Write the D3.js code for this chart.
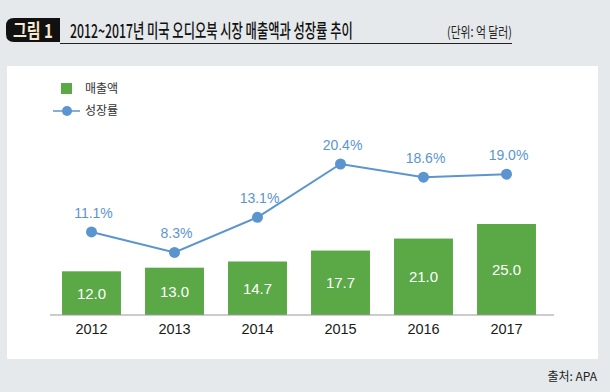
<!DOCTYPE html>
<html><head><meta charset="utf-8">
<script src="https://cdn.jsdelivr.net/npm/d3@7"></script>
<style>
html,body{margin:0;padding:0;background:#e5e9ec;}
svg{display:block;}
text{font-family:"Liberation Sans","Noto Sans CJK KR",sans-serif;}
.kr{font-family:"Noto Sans CJK KR","Noto Sans",sans-serif;}
</style></head>
<body>
<script>
const years = ["2012","2013","2014","2015","2016","2017"];
const sales = [12.0, 13.0, 14.7, 17.7, 21.0, 25.0];
const growth = [11.1, 8.3, 13.1, 20.4, 18.6, 19.0];
const salesLabels = ["12.0","13.0","14.7","17.7","21.0","25.0"];
const growthLabels = ["11.1%","8.3%","13.1%","20.4%","18.6%","19.0%"];
const title = "2012~2017년 미국 오디오북 시장 매출액과 성장률 추이";
const figLabel = "그림 1";
const unit = "(단위: 억 달러)";
const source = "출처: APA";
const legendNames = ["매출액","성장률"];

const W = 610, H = 392;
const green = "#5aa846", blue = "#5b95cf";

const svg = d3.select("body").append("svg").attr("width", W).attr("height", H);
svg.append("rect").attr("width", W).attr("height", H).attr("fill", "#e5e9ec");

// fit text horizontally by scaling: left x, baseline y, target width
function fitText(sel, x0, y0, targetW, anchor) {
  const w = sel.node().getComputedTextLength();
  const s = targetW / w;
  const tx = anchor === "end" ? x0 - targetW : (anchor === "middle" ? x0 - targetW/2 : x0);
  sel.attr("x", 0).attr("y", 0).attr("text-anchor", "start")
     .attr("transform", `translate(${tx},${y0}) scale(${s},1)`);
}

// header
const hdr = svg.append("g");
hdr.append("path")
  .attr("d", "M14,18 H60 V42 H14 Q6,42 6,34 V26 Q6,18 14,18 Z")
  .attr("fill", "#111");
const fl = hdr.append("text").attr("class","kr").attr("font-size", 19).attr("font-weight", 700)
  .attr("fill", "#f6ead2").text(figLabel);
fitText(fl, 33, 37.5, 40, "middle");
const tt = hdr.append("text").attr("class","kr").attr("font-size", 19).attr("font-weight", 500)
  .attr("fill", "#111").text(title);
fitText(tt, 70, 38, 283, "start");
const ut = hdr.append("text").attr("class","kr").attr("font-size", 14).attr("fill", "#222").text(unit);
fitText(ut, 512, 37, 65, "end");
hdr.append("line").attr("x1", 60).attr("x2", 512).attr("y1", 43.5).attr("y2", 43.5)
  .attr("stroke", "#222").attr("stroke-width", 1.2);

// panel
svg.append("rect").attr("x", 7).attr("y", 66).attr("width", 591).attr("height", 293).attr("fill", "#fff");

// scales
const x = d3.scaleBand().domain(years).range([50, 548]).paddingInner(0.29).paddingOuter(0.145);
const yBar = d3.scaleLinear().domain([0, 25]).range([315, 224]);
const yLine = d3.scaleLinear().domain([0, 20.4]).range([313, 164]);

// bars
const bars = svg.append("g");
bars.selectAll("rect").data(years).join("rect")
  .attr("x", d => x(d)).attr("width", x.bandwidth())
  .attr("y", (d,i) => yBar(sales[i])).attr("height", (d,i) => yBar(0) - yBar(sales[i]))
  .attr("fill", green);
bars.selectAll("text").data(years).join("text")
  .attr("x", d => x(d) + x.bandwidth()/2)
  .attr("y", (d,i) => (yBar(sales[i]) + yBar(0))/2 + 5.5)
  .attr("text-anchor","middle").attr("font-size", 15).attr("fill", "#fff")
  .text((d,i) => salesLabels[i]);

// axis
const axis = svg.append("g").attr("transform", `translate(0,${yBar(0)})`)
  .call(d3.axisBottom(x).tickSize(0).tickPadding(9));
axis.select(".domain").remove();
axis.append("line").attr("x1", x.range()[0]).attr("x2", x.range()[1] + 6)
  .attr("stroke", "#9a9a9a").attr("stroke-width", 1.2);
axis.selectAll(".tick text").attr("font-size", 14.5).attr("fill", "#1a1a1a")
  .attr("font-family", "Liberation Sans, sans-serif");

// line
const cx = d => x(d) + x.bandwidth()/2;
const line = d3.line().x(d => cx(d)).y((d,i) => yLine(growth[i]));
svg.append("path").datum(years).attr("d", line)
  .attr("fill","none").attr("stroke", blue).attr("stroke-width", 2);
svg.append("g").selectAll("circle").data(years).join("circle")
  .attr("cx", d => cx(d)).attr("cy", (d,i) => yLine(growth[i])).attr("r", 5.5)
  .attr("fill", blue);
svg.append("g").selectAll("text").data(years).join("text")
  .attr("x", d => cx(d) + 2).attr("y", (d,i) => yLine(growth[i]) - 14)
  .attr("text-anchor","middle").attr("font-size", 14).attr("fill", blue)
  .text((d,i) => growthLabels[i]);

// legend
const lg = svg.append("g");
lg.append("rect").attr("x", 61).attr("y", 83).attr("width", 11).attr("height", 11).attr("fill", green);
lg.append("text").attr("class","kr").attr("x", 85).attr("y", 93).attr("font-size", 12).attr("fill", "#333").text(legendNames[0]);
lg.append("line").attr("x1", 53).attr("x2", 80).attr("y1", 111).attr("y2", 111).attr("stroke", blue).attr("stroke-width", 1.5);
lg.append("circle").attr("cx", 67).attr("cy", 111).attr("r", 5).attr("fill", blue);
lg.append("text").attr("class","kr").attr("x", 85).attr("y", 115).attr("font-size", 12).attr("fill", "#333").text(legendNames[1]);

// source
svg.append("text").attr("class","kr").attr("x", 597).attr("y", 381)
  .attr("text-anchor","end").attr("font-size", 12).attr("fill", "#222").text(source);
</script>
</body></html>
